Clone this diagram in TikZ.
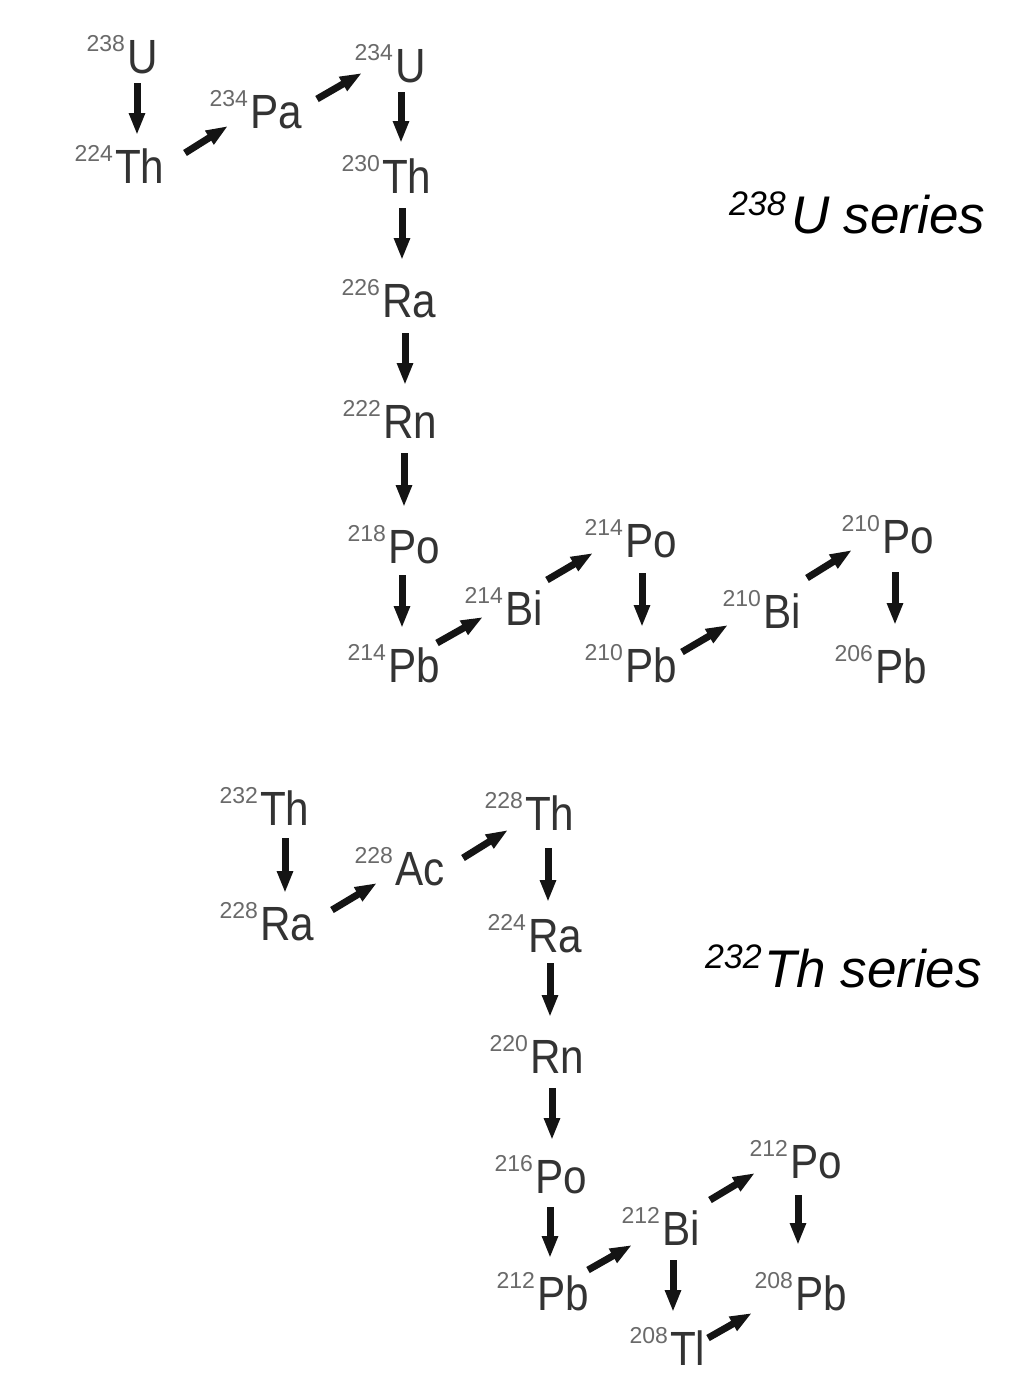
\documentclass[tikz,border=0pt]{standalone}
\usepackage{fontspec}
\setmainfont{Liberation Sans}
\newfontfamily\elfont[FakeStretch=0.88]{Liberation Sans}
\usetikzlibrary{arrows.meta}
\definecolor{elcol}{HTML}{333333}
\definecolor{supcol}{HTML}{6A6A6A}
\definecolor{arrcol}{HTML}{141414}
\newcommand\nuc[5]{%
  \node[elem] (#1) at (#2,#3) {#5};
  \node[supn] (#1-m) at ([shift={(-2,-22)}]#1.base west) {#4};}
\newcommand\dk[6]{%
  \draw[decay] ([shift={(#2,#3)}]#1.base west) -- ([shift={(#5,#6)}]#4.base west);}
\begin{document}
\begin{tikzpicture}[x=1pt,y=-1pt,
  elem/.style={anchor=base west,inner sep=0pt,outer sep=0pt,text=elcol,
    font=\elfont\fontsize{48}{50}\selectfont},
  supn/.style={anchor=base east,inner sep=0pt,outer sep=0pt,text=supcol,
    font=\fontsize{23}{24}\selectfont},
  decay/.style={draw=arrcol,line width=7pt,
    -{Triangle[width=15pt,length=22pt]},fill=arrcol},
  serlab/.style={anchor=base west,inner sep=0pt,outer sep=0pt,text=black,
    font=\itshape\fontsize{53}{55}\selectfont},
  sersup/.style={anchor=base west,inner sep=0pt,outer sep=0pt,text=black,
    font=\itshape\fontsize{34}{35}\selectfont}]
\useasboundingbox[fill=white] (0,0) rectangle (1026,1400);
% ---------- 238U series ----------
\nuc{u238}{127}{73}{238}{U}
\nuc{th224}{115}{183}{224}{Th}
\nuc{pa234}{250}{128}{234}{Pa}
\nuc{u234}{395}{82}{234}{U}
\nuc{th230}{382}{193}{230}{Th}
\nuc{ra226}{382}{317}{226}{Ra}
\nuc{rn222}{383}{438}{222}{Rn}
\nuc{po218}{388}{563}{218}{Po}
\nuc{pb214}{388}{682}{214}{Pb}
\nuc{bi214}{505}{625}{214}{Bi}
\nuc{po214}{625}{557}{214}{Po}
\nuc{pb210}{625}{682}{210}{Pb}
\nuc{bi210}{763}{628}{210}{Bi}
\nuc{po210}{882}{553}{210}{Po}
\nuc{pb206}{875}{683}{206}{Pb}
\dk{u238}{10}{10}{th224}{22}{-48}
\dk{u234}{6}{10}{th230}{19}{-50}
\dk{th230}{20}{15}{ra226}{20}{-57}
\dk{ra226}{23}{16}{rn222}{22}{-53}
\dk{rn222}{21}{15}{po218}{16}{-56}
\dk{po218}{14}{12}{pb214}{14}{-54}
\dk{po214}{17}{16}{pb210}{17}{-55}
\dk{po210}{13}{19}{pb206}{20}{-58}
\dk{th224}{70}{-30}{pa234}{-22}{-2}
\dk{pa234}{67}{-29}{u234}{-33}{-9}
\dk{pb214}{49}{-39}{bi214}{-22}{-8}
\dk{bi214}{42}{-45}{po214}{-32}{-4}
\dk{pb210}{57}{-30}{bi210}{-35}{-3}
\dk{bi210}{44}{-50}{po210}{-30}{-3}
\node[sersup] (s238m) at (729,215) {238};
\node[serlab] (s238) at (791,233) {U series};
% ---------- 232Th series ----------
\nuc{th232}{260}{825}{232}{Th}
\nuc{ra228}{260}{940}{228}{Ra}
\nuc{ac228}{395}{885}{228}{Ac}
\nuc{th228}{525}{830}{228}{Th}
\nuc{ra224}{528}{952}{224}{Ra}
\nuc{rn220}{530}{1073}{220}{Rn}
\nuc{po216}{535}{1193}{216}{Po}
\nuc{pb212}{537}{1310}{212}{Pb}
\nuc{bi212}{662}{1245}{212}{Bi}
\nuc{tl208}{670}{1365}{208}{Tl}
\nuc{po212}{790}{1178}{212}{Po}
\nuc{pb208}{795}{1310}{208}{Pb}
\dk{th232}{25}{13}{ra228}{25}{-47}
\dk{th228}{23}{18}{ra224}{20}{-50}
\dk{ra224}{22}{11}{rn220}{20}{-56}
\dk{rn220}{22}{15}{po216}{17}{-53}
\dk{po216}{15}{14}{pb212}{13}{-52}
\dk{bi212}{11}{15}{tl208}{3}{-53}
\dk{po212}{8}{17}{pb208}{3}{-65}
\dk{ra228}{72}{-30}{ac228}{-18}{-2}
\dk{ac228}{68}{-27}{th228}{-17}{0}
\dk{pb212}{51}{-40}{bi212}{-30}{0}
\dk{bi212}{48}{-45}{po212}{-35}{-5}
\dk{tl208}{38}{-27}{pb208}{-43}{3}
\node[sersup] (s232m) at (705,968) {232};
\node[serlab] (s232) at (764,987) {Th series};
\end{tikzpicture}
\end{document}
